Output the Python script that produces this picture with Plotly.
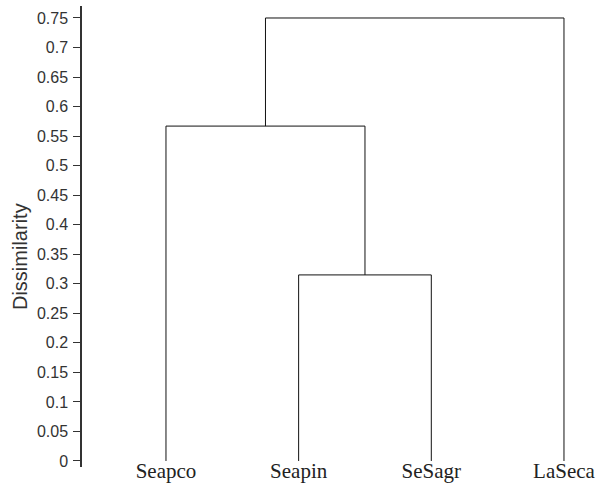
import plotly.graph_objects as go

leaves = ["Seapco", "Seapin", "SeSagr", "LaSeca"]
# merges: (left child, right child, height); children are leaf indices or "cN" cluster ids
merge_left = [1, "c0", "c1"]
merge_right = [2, 0, 3]
merge_height = [0.315, 0.567, 0.75]

tick_vals = [0, 0.05, 0.1, 0.15, 0.2, 0.25, 0.3, 0.35, 0.4, 0.45, 0.5, 0.55, 0.6, 0.65, 0.7, 0.75]
tick_text = ["0", "0.05", "0.1", "0.15", "0.2", "0.25", "0.3", "0.35", "0.4", "0.45",
             "0.5", "0.55", "0.6", "0.65", "0.7", "0.75"]

pos = {}
hgt = {}
for i in range(len(leaves)):
    pos[i] = float(i)
    hgt[i] = 0.0

xs, ys = [], []
for k, (a, b, h) in enumerate(zip(merge_left, merge_right, merge_height)):
    xa, xb = pos[a], pos[b]
    ha, hb = hgt[a], hgt[b]
    xs += [xa, xa, xb, xb, None]
    ys += [ha, h, h, hb, None]
    cid = "c%d" % k
    pos[cid] = (xa + xb) / 2
    hgt[cid] = h

fig = go.Figure()
fig.add_trace(go.Scatter(x=xs, y=ys, mode="lines",
                         line=dict(color="#111111", width=1),
                         hoverinfo="skip", showlegend=False))

fig.update_layout(
    width=597, height=483,
    margin=dict(l=82, r=0, t=6, b=16, autoexpand=False),
    plot_bgcolor="white", paper_bgcolor="white",
    font=dict(family="Liberation Sans, Arial, sans-serif", color="#333333"),
)
fig.update_xaxes(
    range=[-0.633, 3.249],
    tickvals=list(range(len(leaves))), ticktext=leaves,
    showgrid=False, zeroline=False, showline=False, ticks="",
    tickfont=dict(family="Liberation Serif, serif", size=21, color="#222222"),
    ticklabelstandoff=-11,
    automargin=False,
)
fig.update_yaxes(
    range=[-0.0102, 0.7703],
    tickvals=tick_vals, ticktext=tick_text,
    showgrid=False, zeroline=False,
    showline=True, linecolor="#333333", linewidth=1.5,
    ticks="outside", ticklen=7, tickcolor="#333333", tickwidth=1.2,
    tickfont=dict(family="Liberation Sans, Arial, sans-serif", size=16, color="#333333"),
    ticklabelstandoff=2,
    automargin=False,
)
fig.add_annotation(
    text="Dissimilarity", textangle=-90, showarrow=False,
    xref="paper", yref="paper", x=0, y=0.4555, xanchor="center", yanchor="middle",
    xshift=-62, font=dict(size=20, color="#333333"),
)

fig.write_html("out.html", config={"displayModeBar": False},
               post_script="document.body.style.margin='0';")
